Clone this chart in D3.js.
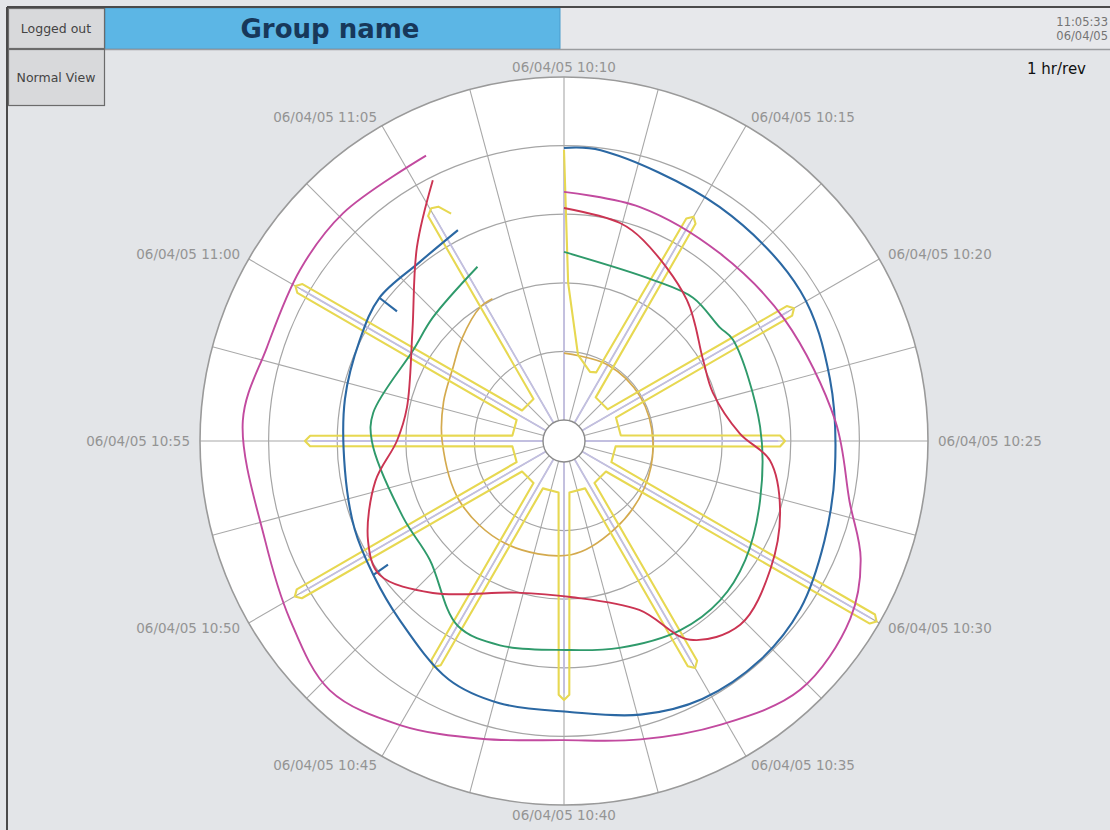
<!DOCTYPE html>
<html><head><meta charset="utf-8">
<script src="https://cdn.jsdelivr.net/npm/d3@7"></script>
<style>
html,body{margin:0;padding:0;background:#e3e5e8;}
svg{display:block;font-family:"DejaVu Sans",Verdana,sans-serif;}
</style></head><body>
<svg id="c" width="1110" height="830"></svg>
<script>
// ---------- data ----------
const groupName = "Group name";
const clockTime = "11:05:33";
const clockDate = "06/04/05";
const speedLabel = "1 hr/rev";
const buttonLabels = ["Logged out", "Normal View"];
const tickDate = "06/04/05";
const tickTimes = ["10:10","10:15","10:20","10:25","10:30","10:35","10:40","10:45","10:50","10:55","11:00","11:05"];
const tickMinutes = [0,5,10,15,20,25,30,35,40,45,50,55];           // minutes after 10:10
const spokeMinutes = [0,2.5,5,7.5,10,12.5,15,17.5,20,22.5,25,27.5,30,32.5,35,37.5,40,42.5,45,47.5,50,52.5,55,57.5];
const ringValues = [20,40,60,80];

// series: [minutes after 10:10, value 0-100]
const magenta = [[0,66.5],[3,65.6],[6.6,65],[10.2,67.3],[14.3,73.2],[17,79],[18.6,86.9],[20.3,92.1],[22.75,93.9],[25.2,88.3],[27.6,83.7],[30,81.1],[32.6,84],[35,89.5],[37.2,93.6],[39.5,89.2],[41.95,85.7],[45.6,87.7],[47.9,84.7],[50.5,85.6],[52.65,86.4],[55.7,86.3]];
const red = [[0,61.8],[2.4,59.5],[3.6,56.8],[6.85,48.4],[9.97,40.8],[12,39.5],[14.6,45.2],[15.9,54.2],[17.95,60],[20.3,64.7],[22.7,68.1],[24.6,62.5],[26,47.8],[29.6,39.4],[32.9,40.2],[36.8,52.4],[39,60.3],[40.5,58],[43,50.1],[45,42.6],[47,40.7],[51,48.5],[53.8,64.8],[55.55,79]];
const blue = [[0,79.3],[1.2,79.3],[5.6,75.8],[9.6,75.5],[12.8,73.5],[16,73.3],[18.5,75.2],[20.9,78.4],[23,79.6],[25.3,79.2],[27.4,76.7],[29.8,72.9],[32.3,72.6],[34.3,71.1],[37.1,64.7],[39.15,61.8],[41.2,60.1],[43.75,58.3],[46.8,58.9],[49.4,60.3],[51.3,62],[53.5,60.9],[55.55,62.7]];
const blueDips = [[39.15,61.8,56.6],[51.3,62,55.5]];   // [minute, from value, to value]
const green = [[0,49],[4.8,47.5],[7,50.1],[9,50.1],[9.85,51.3],[14.3,51.2],[17.8,53.6],[20.55,57.1],[22.6,58.9],[24.75,58.6],[27.5,56.3],[29.9,54.8],[32.9,56.3],[35,56],[38.1,46.1],[40.8,45.8],[45,49.9],[46.4,50.1],[50.2,45.2],[52.2,46.4],[55.6,50.6]];
const tan = [[0,19.5],[5,19.5],[10,19.6],[15,19.8],[20,21],[25,23.5],[29.4,27.1],[35,28.3],[40,29],[45,29.4],[48,30.8],[50.6,32.7],[52.5,36],[54.65,39.9],[55.55,40.3]];
const yellow = [[0,78.7],[0.25,40],[1.54,19.3],[3.44,15.4],[4.2,16],
  [4.8,67.9],[5,69.4],[5.2,67.9],[6.0,9.6],
  [9.0,9.6],[9.8,69.8],[10,71.3],[10.2,69.8],[10.95,10.5],
  [14.05,10.5],[14.76,56.9],[15,58.3],[15.24,56.9],[16.0,9],
  [19.0,9],[19.86,97.7],[20,99.1],[20.14,97.7],[21.0,9],
  [24.0,9],[24.8,68.8],[25,70.3],[25.2,68.8],[26.0,9],
  [29.0,9],[29.8,67.9],[30,69.4],[30.2,67.9],[31.0,9],
  [34.0,9],[34.8,68.5],[35,70],[35.2,68.5],[36.0,9],
  [39.0,9],[39.84,83],[40,84.5],[40.16,83],[41.0,9],
  [44.0,9],[44.8,67.9],[45,69.4],[45.2,67.9],[46.0,9],
  [49.0,9],[49.84,82.8],[50,84.3],[50.16,82.8],[51.0,9],
  [54.0,9],[54.81,70.5],[55.05,72],[55.3,71.4],[55.6,67.9]];
const spikeMinutes = [0,5,10,15,20,25,30,35,40,45,50,55];
const spikeTips = [78.7,69.4,71.3,58.3,99.1,70.3,69.4,70,84.5,69.4,84.3,72];

// ---------- layout ----------
const W = 1110, H = 830, cx = 564, cy = 441, R0 = 21, R = 364;
const svg = d3.select("#c");
const rScale = d3.scaleLinear().domain([0,100]).range([R0,R]);
const aScale = d3.scaleLinear().domain([0,60]).range([0,2*Math.PI]);
const px = (m,v)=> rScale(v)*Math.sin(aScale(m));
const py = (m,v)=> -rScale(v)*Math.cos(aScale(m));

svg.append("rect").attr("width",W).attr("height",H).attr("fill","#e3e5e8");

// header
svg.append("rect").attr("x",560).attr("y",8).attr("width",550).attr("height",41).attr("fill","#e7e8eb");
svg.append("rect").attr("x",105).attr("y",8).attr("width",455).attr("height",41).attr("fill","#5cb6e5").attr("stroke","#4a9ccc");
svg.append("text").attr("x",330).attr("y",38).attr("text-anchor","middle").attr("font-size",26).attr("font-weight","bold").attr("fill","#17385a").text(groupName);
svg.append("text").attr("x",1108).attr("y",26).attr("text-anchor","end").attr("font-size",11.5).attr("fill","#747474").text(clockTime);
svg.append("text").attr("x",1108).attr("y",40).attr("text-anchor","end").attr("font-size",11.5).attr("fill","#747474").text(clockDate);
svg.append("line").attr("x1",105).attr("x2",W).attr("y1",49.5).attr("y2",49.5).attr("stroke","#9a9c9f").attr("stroke-width",1.5);
svg.append("text").attr("x",1086).attr("y",74).attr("text-anchor","end").attr("font-size",15).attr("fill","#111").text(speedLabel);

// buttons
const btnY = [8,49], btnH = [40,56];
buttonLabels.forEach((t,i)=>{
  svg.append("rect").attr("x",8.5).attr("y",btnY[i]+0.5).attr("width",96).attr("height",btnH[i]).attr("fill","#d8d9db").attr("stroke","#6b6b6b").attr("stroke-width",1.2);
  svg.append("text").attr("x",56).attr("y",btnY[i]+ (i===0?25:33)).attr("text-anchor","middle").attr("font-size",12.5).attr("fill","#444").text(t);
});
// window border
svg.append("line").attr("x1",7).attr("x2",W).attr("y1",7).attr("y2",7).attr("stroke","#4a4a4a").attr("stroke-width",2);
svg.append("line").attr("x1",7).attr("x2",7).attr("y1",7).attr("y2",H).attr("stroke","#4a4a4a").attr("stroke-width",2);

// chart
const g = svg.append("g").attr("transform",`translate(${cx},${cy})`);
g.append("circle").attr("r",rScale(100)).attr("fill","#ffffff");
g.selectAll(".ring").data(ringValues).join("circle").attr("r",d=>rScale(d)).attr("fill","none").attr("stroke","#a5a5a5").attr("stroke-width",1.2);
g.selectAll(".spoke").data(spokeMinutes).join("line")
  .attr("x1",d=>px(d,0)).attr("y1",d=>py(d,0))
  .attr("x2",d=>px(d,100)).attr("y2",d=>py(d,100))
  .attr("stroke","#a8a8a8").attr("stroke-width",1.1);
g.append("circle").attr("r",rScale(100)).attr("fill","none").attr("stroke","#9a9a9a").attr("stroke-width",1.6);
// lavender core inside spikes
g.selectAll(".core").data(spikeMinutes).join("line")
  .attr("x1",d=>px(d,0)).attr("y1",d=>py(d,0))
  .attr("x2",(d,i)=>px(d,spikeTips[i]-2)).attr("y2",(d,i)=>py(d,spikeTips[i]-2))
  .attr("stroke","#c2bfe0").attr("stroke-width",1.8);
g.append("circle").attr("r",rScale(0)).attr("fill","#fff").attr("stroke","#8a8a8a").attr("stroke-width",1.4);

const line = d3.lineRadial().angle(d=>aScale(d[0])).radius(d=>rScale(d[1])).curve(d3.curveLinear);
const smooth = d3.lineRadial().angle(d=>aScale(d[0])).radius(d=>rScale(d[1])).curve(d3.curveCatmullRom.alpha(0.5));
g.append("path").attr("d",smooth(tan)).attr("fill","none").attr("stroke","#d4aa4e").attr("stroke-width",1.7);
g.append("path").attr("d",line(yellow)).attr("fill","none").attr("stroke","#e7d851").attr("stroke-width",2.1).attr("stroke-linejoin","round");
g.append("path").attr("d",smooth(green)).attr("fill","none").attr("stroke","#2f9a6b").attr("stroke-width",1.9);
g.append("path").attr("d",smooth(blue)).attr("fill","none").attr("stroke","#2b68a3").attr("stroke-width",2.1);
g.selectAll(".dip").data(blueDips).join("line")
  .attr("x1",d=>px(d[0],d[1])).attr("y1",d=>py(d[0],d[1]))
  .attr("x2",d=>px(d[0],d[2])).attr("y2",d=>py(d[0],d[2]))
  .attr("stroke","#2b68a3").attr("stroke-width",2.1);
g.append("path").attr("d",smooth(red)).attr("fill","none").attr("stroke","#cb3452").attr("stroke-width",1.9);
g.append("path").attr("d",smooth(magenta)).attr("fill","none").attr("stroke","#c24a9f").attr("stroke-width",1.9);

// time labels
tickMinutes.forEach((m,i)=>{
  const a = aScale(m), rr = rScale(100)+10;
  const x = rr*Math.sin(a), y = -rr*Math.cos(a);
  const s = Math.sin(a);
  g.append("text").attr("x",x).attr("y",y+5)
    .attr("text-anchor", s>0.1?"start":(s<-0.1?"end":"middle"))
    .attr("font-size",13.5).attr("fill","#949494")
    .text(tickDate+" "+tickTimes[i]);
});
</script>
</body></html>
